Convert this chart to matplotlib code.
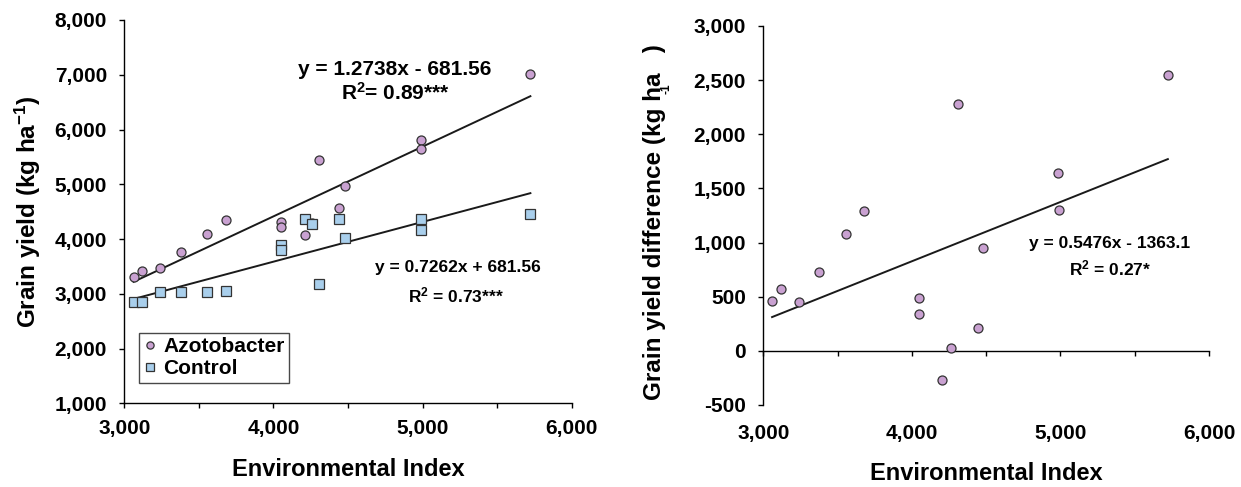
import matplotlib
matplotlib.use("Agg")
import matplotlib.pyplot as plt
import numpy as np

plt.rcParams['font.family'] = ['Liberation Sans', 'DejaVu Sans']
plt.rcParams['font.weight'] = 'bold'
plt.rcParams['axes.labelweight'] = 'bold'
plt.rcParams['mathtext.fontset'] = 'custom'
plt.rcParams['mathtext.rm'] = 'Liberation Sans:bold'
plt.rcParams['mathtext.bf'] = 'Liberation Sans:bold'
plt.rcParams['mathtext.it'] = 'Liberation Sans:bold'
plt.rcParams['mathtext.default'] = 'rm'

# ---- Data (left panel) ----
azo_x = [3062, 3118, 3241, 3380, 3557, 3680, 4050, 4050, 4209, 4257, 4306, 4437, 4481, 4989, 4989, 5723]
azo_y = [3302, 3424, 3473, 3754, 4095, 4339, 4309, 4217, 4077, 4297, 5450, 4565, 4962, 5816, 5639, 7012]
ctl_x = [3062, 3121, 3241, 3380, 3557, 3680, 4050, 4050, 4209, 4257, 4306, 4437, 4481, 4989, 4989, 5723]
ctl_y = [2857, 2857, 3027, 3027, 3027, 3045, 3900, 3808, 4364, 4266, 3174, 4358, 4022, 4358, 4168, 4455]
azo_fit = (1.2738, -681.56)
ctl_fit = (0.7262, 681.56)

# ---- Data (right panel) ----
diff_x = [3059, 3117, 3239, 3378, 3556, 3678, 4051, 4051, 4205, 4261, 4309, 4444, 4479, 4984, 4989, 5723]
diff_y = [462, 575, 452, 728, 1079, 1296, 489, 342, -272, 31, 2284, 208, 951, 1639, 1305, 2550]
diff_fit = (0.5476, -1363.1)

left_yticks = [1000, 2000, 3000, 4000, 5000, 6000, 7000, 8000]
right_yticks = [-500, 0, 500, 1000, 1500, 2000, 2500, 3000]
xticks = [3000, 4000, 5000, 6000]
xminor = [3500, 4500, 5500]

purple = '#C9A1D1'
blue = '#A9CFEC'
edge = '#333333'

W, H = 1241, 487
fig = plt.figure(figsize=(W / 100, H / 100), dpi=100)

def box(l, r, t, b):
    return [l / W, 1 - b / H, (r - l) / W, (b - t) / H]

fmt = lambda v: f"{v:,.0f}"
TICK_FS = 15

# ---------- Left ----------
ax = fig.add_axes(box(124.3, 571.7, 20, 403.3))
ax.set_xlim(3000, 6000)
ax.set_ylim(1000, 8000)
ax.spines['top'].set_visible(False)
ax.spines['right'].set_visible(False)
for s in ('left', 'bottom'):
    ax.spines[s].set_linewidth(1.0)
ax.set_xticks(xticks)
ax.set_xticklabels([fmt(v) for v in xticks])
ax.set_xticks(xminor, minor=True)
ax.set_yticks(left_yticks)
ax.set_yticklabels([fmt(v) for v in left_yticks])
ax.tick_params(axis='both', which='both', direction='out', length=3.5, width=1.0, labelsize=TICK_FS)
ax.tick_params(axis='y', pad=9)
ax.tick_params(axis='x', pad=8)

xa = np.array(azo_x, dtype=float)
xs = np.array([xa.min(), xa.max()])
ax.plot(xs, azo_fit[0] * xs + azo_fit[1], color='#1a1a1a', lw=1.4, zorder=2)
xc = np.array(ctl_x, dtype=float)
xs2 = np.array([xc.min(), xc.max()])
ax.plot(xs2, ctl_fit[0] * xs2 + ctl_fit[1], color='#1a1a1a', lw=1.4, zorder=2)

ax.plot(azo_x, azo_y, 'o', ms=6.5, mfc=purple, mec=edge, mew=0.9, label='Azotobacter', zorder=3)
ax.plot(ctl_x, ctl_y, 's', ms=6.5, mfc=blue, mec=edge, mew=0.9, label='Control', zorder=4)

leg = ax.legend(loc='lower left', bbox_to_anchor=(0.0335, 0.054), borderaxespad=0,
                fontsize=15, frameon=True, fancybox=False, edgecolor='#1a1a1a',
                handlelength=0.6, handletextpad=0.35, borderpad=0.2, labelspacing=0.15,
                markerscale=0.8)
leg.get_frame().set_linewidth(1.0)

ax.set_xlabel('Environmental Index', fontsize=17, fontweight='bold', labelpad=14)
ax.set_ylabel(r'Grain yield (kg ha$^{-1}$)', fontsize=17.5, fontweight='bold', labelpad=8)

ax.text(4810, 7087, 'y = 1.2738x - 681.56', fontsize=15, fontweight='bold', ha='center', va='center')
ax.text(4819, 6667, r'R$^{2}$= 0.89***', fontsize=15, fontweight='bold', ha='center', va='center')
ax.text(5234, 3471, 'y = 0.7262x + 681.56', fontsize=12.5, fontweight='bold', ha='center', va='center')
ax.text(5222, 2978, r'R$^{2}$ = 0.73***', fontsize=12.5, fontweight='bold', ha='center', va='center')

# ---------- Right ----------
ax2 = fig.add_axes(box(763.3, 1209, 26, 405))
ax2.set_xlim(3000, 6000)
ax2.set_ylim(-500, 3000)
ax2.spines['top'].set_visible(False)
ax2.spines['right'].set_visible(False)
ax2.spines['bottom'].set_position(('data', 0))
for s in ('left', 'bottom'):
    ax2.spines[s].set_linewidth(1.0)
ax2.set_xticks(xticks)
ax2.set_xticklabels([fmt(v) for v in xticks])
ax2.set_xticks(xminor, minor=True)
ax2.set_yticks(right_yticks)
ax2.set_yticklabels([fmt(v) for v in right_yticks])
ax2.tick_params(axis='both', which='both', direction='out', length=3.5, width=1.0, labelsize=TICK_FS)
ax2.tick_params(axis='y', pad=9)
ax2.tick_params(axis='x', pad=49)

xd = np.array(diff_x, dtype=float)
xs3 = np.array([xd.min(), xd.max()])
ax2.plot(xs3, diff_fit[0] * xs3 + diff_fit[1], color='#1a1a1a', lw=1.4, zorder=2)
ax2.plot(diff_x, diff_y, 'o', ms=6.5, mfc=purple, mec=edge, mew=0.9, zorder=3, clip_on=False)

ax2.text(5334, 988, 'y = 0.5476x - 1363.1', fontsize=12.5, fontweight='bold', ha='center', va='center')
ax2.text(5334, 760, r'R$^{2}$ = 0.27*', fontsize=12.5, fontweight='bold', ha='center', va='center')

ax2.set_xlabel('Environmental Index', fontsize=17, fontweight='bold', labelpad=14)
fig.text(655 / W, 1 - 222 / H, 'Grain yield difference (kg ha   )', fontsize=17.5,
         fontweight='bold', rotation=90, ha='center', va='center')
fig.text(666 / W, 1 - 89 / H, '-1', fontsize=8.5, fontweight='bold', rotation=90,
         ha='center', va='center')

fig.savefig('out.png', dpi=100)
